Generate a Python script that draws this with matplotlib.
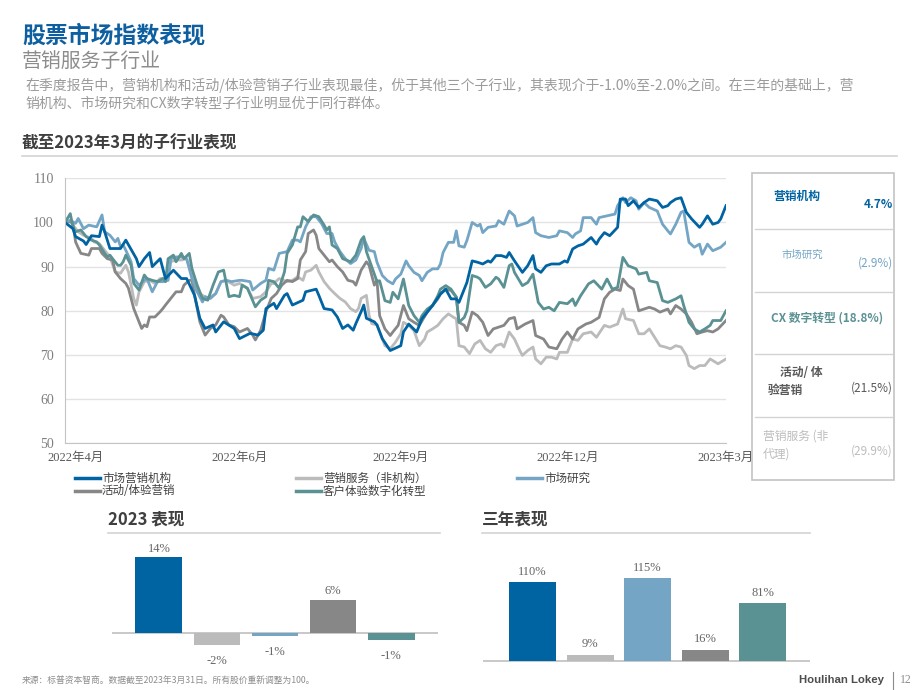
import matplotlib
matplotlib.use("Agg")
import matplotlib.pyplot as plt
from matplotlib.patches import Rectangle
from matplotlib.lines import Line2D

plt.rcParams['font.family'] = ['Noto Sans CJK SC', 'DejaVu Sans']
SERIF = ['Liberation Serif', 'Noto Sans CJK SC']

# 指数（2022年4月 = 100），x 为交易日序号
agency = [(0,100),(3,98.6),(4,96.8),(7,95.8),(8,95.0),(10,97.0),(13,96.8),(14,99.4),(15,97.9),(17,94.1),(21,94.1),(23,96.0),(27,91.8),(28,90.0),(30,91.8),(32,93.2),(33,90.0),(36,91.8),(38,87.3),(41,89.2),(44,87.3),(46,87.3),(49,83.5),(51,78.3),(53,76.0),(56,76.8),(57,75.2),(60,77.5),(64,76.0),(66,73.7),(70,74.9),(73,74.5),(75,75.6),(76,80.5),(79,81.7),(80,80.5),(83,83.5),(84,83.9),(86,81.3),(90,82.4),(91,84.3),(95,84.9),(96,83.5),(98,80.5),(101,80.2),(103,78.6),(105,76.0),(107,76.8),(109,75.6),(110,77.1),(112,79.8),(113,81.3),(114,78.3),(117,77.5),(118,76.8),(120,73.7),
          (123,71.0),(127,72.1),(128,75.2),(130,77.0),(133,75.2),(135,78.2),(139,81.2),(142,83.8),(144,84.9),(146,82.7),(148,82.7),(149,81.9),(152,86.4),(154,91.3),(156,91.0),(158,90.6),(160,91.3),(161,91.0),(163,92.5),(165,92.5),(167,92.1),(168,93.2),(170,91.3),(173,88.7),(175,90.2),(177,92.5),(178,89.5),(180,88.7),(182,90.2),(184,90.6),(187,90.6),(189,91.3),(190,91.0),(192,94.0),(194,94.7),(196,95.1),(199,96.6),(201,95.1),(202,96.2),(204,97.7),(206,97.0),(209,98.9),(210,105.3),(212,105.3),(213,103.8),(215,104.9),(217,103.4),(219,104.5),(221,105.3),(224,104.9),(226,103.4),(228,103.8),(229,104.5),(231,105.3),(233,105.6),(235,102.3),(237,100.8),(240,98.9),(241,99.6),(243,101.5),(245,99.6),(247,100.0),(248,100.8),(250,103.8)]

research = [(0,100),(2,100.5),(4,99.8),(5,100.9),(7,98.6),(9,99.4),(12,99.0),(14,101.7),(15,97.9),(17,97.1),(19,95.6),(20,96.4),(21,94.5),(22,94.9),(23,93.7),(25,91.1),(26,87.3),(28,85.8),(30,86.9),(31,87.3),(33,84.3),(35,86.6),(37,86.6),(39,86.9),(40,91.8),(42,92.2),(44,92.2),(46,91.8),(48,87.3),(50,84.3),(52,82.0),(53,83.2),(55,82.8),(57,83.9),(59,86.6),(61,86.9),(63,86.6),(66,86.9),(67,86.9),(70,86.6),(71,84.7),(74,86.2),(76,86.9),(77,89.6),(79,89.2),(81,93.0),(84,93.4),(86,96.0),(88,96.0),(89,95.6),(91,99.0),(93,101.3),(95,101.3),(97,99.8),(99,97.5),(101,97.5),(102,95.6),(104,93.4),(106,91.8),(108,90.7),(110,91.5),(112,94.1),(113,96.4),(115,93.7),(117,93.4),(118,91.0),
            (120,88.0),(122,86.8),(124,86.1),(125,87.2),(127,88.3),(129,91.3),(130,90.2),(132,88.7),(134,88.0),(135,86.8),(137,88.7),(139,89.5),(141,89.5),(142,90.6),(143,93.2),(145,95.5),(147,95.5),(148,98.1),(149,94.7),(151,94.4),(152,95.9),(154,100.0),(156,99.2),(157,99.6),(158,97.7),(160,98.9),(163,99.2),(164,100.4),(166,99.6),(168,102.6),(170,101.5),(171,99.2),(173,99.6),(175,100.0),(177,101.1),(178,97.7),(180,97.0),(183,96.6),(186,97.0),(187,98.1),(190,97.7),(192,96.6),(193,97.4),(195,98.1),(196,101.1),(199,101.1),(201,99.6),(202,101.1),(205,101.5),(208,101.9),(209,103.8),(211,105.6),(212,104.5),(214,105.6),(216,104.9),(217,103.0),(219,104.5),(221,103.4),(224,102.6),(226,99.6),(228,98.1),(229,97.4),(231,99.6),(233,102.3),(234,102.6),(236,95.5),(238,94.4),(240,95.1),(241,92.8),(243,95.1),(245,93.6),(248,94.4),(250,95.5)]

cx = [(0,100),(2,102.0),(3,99.0),(4,97.9),(6,98.3),(8,96.8),(10,96.0),(12,95.6),(13,94.9),(15,93.0),(16,92.2),(17,92.6),(18,91.8),(20,90.3),(21,90.3),(22,91.1),(23,92.6),(25,90.3),(26,86.2),(28,84.7),(30,88.1),(31,87.3),(33,86.9),(35,86.6),(37,87.3),(38,86.6),(39,91.8),(41,92.6),(42,91.1),(44,93.0),(45,91.8),(47,93.0),(48,89.6),(50,85.8),(52,82.8),(54,82.4),(56,85.8),(58,88.8),(60,89.2),(62,83.2),(64,83.5),(66,83.2),(67,85.8),(69,85.1),(72,80.9),(74,82.4),(76,83.2),(77,86.9),(79,86.6),(81,85.1),(83,88.8),(84,93.0),(86,94.9),(88,99.0),(89,99.0),(90,101.3),(92,100.2),(94,101.7),(96,101.3),(98,99.4),(99,98.3),(100,99.0),(101,94.9),(103,94.1),(105,91.8),(108,91.1),(110,92.6),(112,96.0),(113,96.8),(114,93.4),(116,90.0),(118,86.6),
      (119,86.8),(121,82.3),(123,81.9),(124,84.2),(126,82.7),(128,87.2),(130,81.2),(132,78.9),(134,77.4),(135,78.9),(137,80.4),(139,81.2),(141,83.4),(142,84.9),(144,85.7),(146,84.9),(148,83.1),(149,77.4),(151,78.5),(152,80.0),(154,88.0),(156,87.6),(157,87.2),(159,85.3),(161,86.1),(163,87.6),(164,87.2),(166,85.3),(168,90.2),(169,90.6),(170,88.7),(173,85.7),(175,86.4),(177,88.3),(179,81.9),(181,80.4),(183,80.8),(185,80.0),(187,81.9),(190,81.6),(192,82.7),(193,81.2),(195,83.4),(198,86.1),(200,86.8),(203,84.9),(205,87.2),(207,84.9),(209,85.3),(211,92.1),(213,90.2),(216,89.5),(217,88.3),(220,88.7),(221,86.8),(224,86.4),(226,82.3),(228,81.9),(231,82.7),(233,83.4),(234,81.2),(236,77.4),(238,75.9),(240,75.2),(242,75.9),(244,76.7),(245,77.8),(248,77.8),(250,80.0)]

activation = [(0,100),(2,100.2),(3,99.8),(4,95.6),(6,93.0),(9,92.6),(10,94.1),(13,94.1),(14,93.0),(16,91.8),(18,91.5),(19,88.8),(21,87.3),(23,86.2),(24,85.1),(26,80.5),(27,79.0),(29,76.0),(30,76.8),(31,76.4),(32,78.6),(34,78.6),(36,79.8),(37,80.5),(38,81.3),(40,82.8),(42,84.3),(44,84.3),(45,85.8),(47,86.9),(48,86.9),(49,83.5),(51,77.5),(53,74.5),(55,76.0),(57,76.8),(59,79.0),(60,78.6),(62,76.8),(64,76.4),(66,75.2),(69,76.0),(71,74.5),(72,73.4),(74,75.6),(76,79.8),(78,82.8),(80,83.9),(82,85.8),(84,86.9),(86,86.6),(88,87.3),(89,91.5),(91,93.4),(92,97.5),(94,98.3),(95,97.1),(96,94.1),(98,92.6),(100,91.1),(101,91.5),(103,90.0),(105,88.8),(107,86.9),(109,86.6),(110,85.8),(112,89.2),(114,91.1),(115,90.3),(117,85.8),(118,86.9),
              (119,78.9),(121,75.9),(123,74.4),(124,75.2),(126,76.7),(128,81.2),(130,78.2),(132,77.4),(134,76.7),(137,79.7),(139,81.2),(141,82.7),(142,83.8),(144,84.9),(146,84.6),(148,83.1),(149,77.4),(151,76.7),(152,75.5),(154,79.7),(156,78.9),(158,77.4),(160,74.4),(162,75.9),(164,76.3),(166,76.7),(168,78.2),(170,78.5),(171,75.9),(174,77.0),(177,77.8),(178,74.4),(181,73.6),(183,71.8),(186,71.4),(188,73.6),(190,75.2),(192,73.6),(194,75.9),(197,77.0),(199,77.4),(202,78.5),(204,82.7),(206,84.2),(208,84.9),(210,84.6),(211,87.2),(213,85.7),(215,84.9),(217,80.0),(219,80.4),(221,80.8),(223,80.4),(225,79.7),(228,80.4),(229,79.3),(231,81.2),(233,80.4),(235,79.3),(237,77.4),(239,74.8),(241,75.2),(243,75.5),(245,75.2),(247,75.9),(250,77.8)]

services = [(0,100),(2,100.2),(3,99.4),(5,97.9),(7,97.1),(10,96.4),(11,95.6),(13,95.2),(15,93.7),(17,92.2),(19,88.8),(21,88.5),(23,90.3),(24,88.8),(26,82.8),(27,81.3),(28,84.3),(30,86.6),(32,86.9),(34,86.2),(36,87.3),(39,87.3),(40,91.1),(42,91.5),(44,91.5),(46,91.8),(48,88.1),(50,84.3),(52,83.5),(54,82.8),(56,83.5),(57,83.9),(59,86.6),(61,86.9),(64,85.8),(66,86.2),(69,85.1),(71,82.8),(74,83.2),(76,84.3),(78,86.2),(79,86.2),(81,87.3),(84,86.6),(86,86.9),(88,87.7),(90,86.9),(91,88.8),(93,89.2),(95,90.3),(96,88.8),(98,86.6),(100,85.1),(102,83.9),(104,82.8),(106,82.0),(108,80.5),(110,79.8),(111,80.5),(112,82.8),(114,83.5),(115,79.0),(116,77.1),(118,76.8),
            (119,75.2),(121,72.1),(123,71.4),(125,72.9),(127,74.8),(128,77.4),(130,76.7),(132,75.5),(134,72.1),(136,73.6),(137,75.2),(139,75.9),(141,76.7),(143,78.2),(145,79.3),(147,78.5),(148,78.2),(149,72.1),(151,71.8),(153,70.3),(155,72.5),(157,73.3),(159,71.4),(161,70.6),(163,72.1),(165,72.5),(166,71.8),(168,75.2),(170,73.6),(172,71.0),(173,69.9),(175,71.0),(177,71.8),(178,69.1),(180,68.0),(182,69.5),(184,69.5),(186,69.1),(187,70.6),(190,70.6),(192,73.6),(194,73.3),(196,74.8),(199,75.2),(201,74.0),(204,76.7),(206,76.3),(209,77.0),(211,80.4),(212,78.2),(215,77.8),(217,74.8),(219,74.8),(221,75.9),(223,74.0),(225,72.1),(227,71.8),(229,71.4),(231,72.1),(233,71.8),(235,69.9),(236,67.6),(238,66.9),(240,67.6),(242,67.6),(244,69.1),(247,68.0),(250,69.1)]

x_tick_pos = [4, 66, 127, 190, 250]
x_tick_labels = ["2022年4月", "2022年6月", "2022年9月", "2022年12月", "2023年3月"]

bar_colors = ['#0063A2', '#BBBBBB', '#74A5C5', '#878787', '#5A9193']
perf_2023 = [14.1, -2.2, -0.6, 6.2, -1.4]
perf_3yr = [110, 9, 115, 16, 81]

C_AG, C_SV, C_RS, C_AC, C_CX = bar_colors

W, H = 920, 690
def fx(x): return x / W
def fy(y): return 1 - y / H

fig = plt.figure(figsize=(9.2, 6.9), dpi=100)

# 标题区
fig.text(fx(22), fy(36), "股票市场指数表现", fontsize=16.5, fontweight='bold', color='#0E5FA0', va='center')
fig.text(fx(22), fy(61), "营销服务子行业", fontsize=14.3, color='#8C8C8C', va='center')
fig.text(fx(25), fy(85), "在季度报告中，营销机构和活动/体验营销子行业表现最佳，优于其他三个子行业，其表现介于-1.0%至-2.0%之间。在三年的基础上，营",
         fontsize=10, color='#9B9B9B', va='center')
fig.text(fx(25), fy(104), "销机构、市场研究和CX数字转型子行业明显优于同行群体。", fontsize=10, color='#9B9B9B', va='center')
fig.text(fx(22), fy(143), "截至2023年3月的子行业表现", fontsize=12, fontweight='bold', color='#3F3F3F', va='center')
fig.add_artist(Line2D([fx(22), fx(897)], [fy(156)] * 2, color='#D3D3D3', lw=1.2))

# 折线图
ax = fig.add_axes([fx(65), fy(443.3), 661 / W, 265 / H])
for data, col in [(services, C_SV), (activation, C_AC), (research, C_RS), (cx, C_CX), (agency, C_AG)]:
    ax.plot([d[0] for d in data], [d[1] for d in data], color=col, lw=2.0, solid_joinstyle='round')
ax.set_xlim(0, 250)
ax.set_ylim(50, 110)
ax.set_yticks(range(50, 111, 10))
ax.set_yticklabels([str(v) for v in range(50, 111, 10)], fontfamily=SERIF, fontsize=10, color='#7F7F7F')
ax.set_xticks(x_tick_pos)
ax.set_xticklabels(x_tick_labels, fontfamily=SERIF, fontsize=9, color='#595959')
ax.tick_params(axis='both', length=0)
ax.tick_params(axis='y', pad=8)
ax.tick_params(axis='x', pad=6)
ax.grid(axis='y', color='#E3E3E3', lw=1)
ax.set_axisbelow(True)
for s in ['top', 'right']:
    ax.spines[s].set_visible(False)
for s in ['left', 'bottom']:
    ax.spines[s].set_color('#C4C4C4')

# 图例
legend_items = [(75, 478, C_AG, "市场营销机构"), (296, 478, C_SV, "营销服务（非机构）"), (517, 478, C_RS, "市场研究"),
                (75, 491, C_AC, "活动/体验营销"), (296, 491, C_CX, "客户体验数字化转型")]
for x0, y0, col, lab in legend_items:
    fig.add_artist(Line2D([fx(x0), fx(x0 + 25)], [fy(y0)] * 2, color=col, lw=2.5))
    fig.text(fx(x0 + 27), fy(y0), lab, fontsize=8.3, color='#404040', va='center')

# 右侧框
fig.add_artist(Rectangle((fx(752), fy(480)), 142 / W, 307 / H, transform=fig.transFigure,
                         fill=False, edgecolor='#C4C4C4', lw=1.2))
for yy in [229, 292, 354, 417]:
    fig.add_artist(Line2D([fx(755), fx(892)], [fy(yy)] * 2, color='#D3D3D3', lw=1))
fig.text(fx(773), fy(196), "营销机构", fontsize=8.5, fontweight='bold', color=C_AG, va='center')
fig.text(fx(893), fy(204), "4.7%", fontsize=8.5, fontweight='bold', color=C_AG, va='center', ha='right')
fig.text(fx(782), fy(255), "市场研究", fontsize=7.5, color=C_RS, va='center')
fig.text(fx(893), fy(263), "(2.9%)", fontsize=8.5, color=C_RS, va='center', ha='right')
fig.text(fx(827), fy(318), "CX 数字转型 (18.8%)", fontsize=8.5, fontweight='bold', color=C_CX, va='center', ha='center')
fig.text(fx(780), fy(373), "活动/ 体", fontsize=8.5, fontweight='bold', color='#595959', va='center')
fig.text(fx(768), fy(390), "验营销", fontsize=8.5, fontweight='bold', color='#595959', va='center')
fig.text(fx(893), fy(388), "(21.5%)", fontsize=8.5, color='#595959', va='center', ha='right')
fig.text(fx(763), fy(436), "营销服务 (非", fontsize=8.5, color='#BDBDBD', va='center')
fig.text(fx(763), fy(454), "代理)", fontsize=8.5, color='#BDBDBD', va='center')
fig.text(fx(893), fy(451), "(29.9%)", fontsize=8.5, color='#BDBDBD', va='center', ha='right')

# 柱状图
fig.text(fx(108), fy(520), "2023 表现", fontsize=12, fontweight='bold', color='#3F3F3F', va='center')
fig.add_artist(Line2D([fx(108), fx(440)], [fy(533)] * 2, color='#D3D3D3', lw=1.2))
fig.text(fx(482), fy(520), "三年表现", fontsize=12, fontweight='bold', color='#3F3F3F', va='center')
fig.add_artist(Line2D([fx(482), fx(810)], [fy(533)] * 2, color='#D3D3D3', lw=1.2))

ax1 = fig.add_axes([fx(112), fy(670), 326 / W, 125 / H])
ax1.bar(range(5), perf_2023, width=0.81, color=bar_colors, zorder=2)
ax1.axhline(0, color='#BFBFBF', lw=1.2, zorder=1)
ax1.set_xlim(-0.81, 4.81)
ax1.set_ylim(-6.9, 16.4)
ax1.axis('off')
for i, v in enumerate(perf_2023):
    if v >= 0:
        ax1.annotate(f"{v:.0f}%", (i, v), xytext=(0, 2), textcoords='offset points', ha='center', va='bottom',
                     fontfamily=SERIF, fontsize=9, color='#666666')
    else:
        ax1.annotate(f"{v:.0f}%", (i, v), xytext=(0, -7), textcoords='offset points', ha='center', va='top',
                     fontfamily=SERIF, fontsize=9, color='#666666')

ax2 = fig.add_axes([fx(483), fy(670), 327 / W, 110 / H])
ax2.bar(range(5), perf_3yr, width=0.816, color=bar_colors, zorder=2)
ax2.axhline(0, color='#BFBFBF', lw=1.2, zorder=1)
ax2.set_xlim(-0.86, 4.82)
ax2.set_ylim(-12.5, 140.7)
ax2.axis('off')
for i, v in enumerate(perf_3yr):
    ax2.annotate(f"{v:.0f}%", (i, v), xytext=(0, 3), textcoords='offset points', ha='center', va='bottom',
                 fontfamily=SERIF, fontsize=9, color='#666666')

# 页脚
fig.text(fx(22), fy(681), "来源：标普资本智商。数据截至2023年3月31日。所有股价重新调整为100。", fontsize=6.3, color='#8C8C8C', va='center')
fig.text(fx(884), fy(680), "Houlihan Lokey", fontsize=8.2, fontweight='bold', color='#4D4D4D', va='center', ha='right',
         fontfamily=['Liberation Sans', 'DejaVu Sans'])
fig.add_artist(Line2D([fx(893), fx(893)], [fy(672), fy(689)], color='#8C8C8C', lw=0.8))
fig.text(fx(900), fy(680), "12", fontsize=8.5, color='#8C8C8C', va='center', fontfamily=SERIF)

fig.savefig("out.png", dpi=100)
